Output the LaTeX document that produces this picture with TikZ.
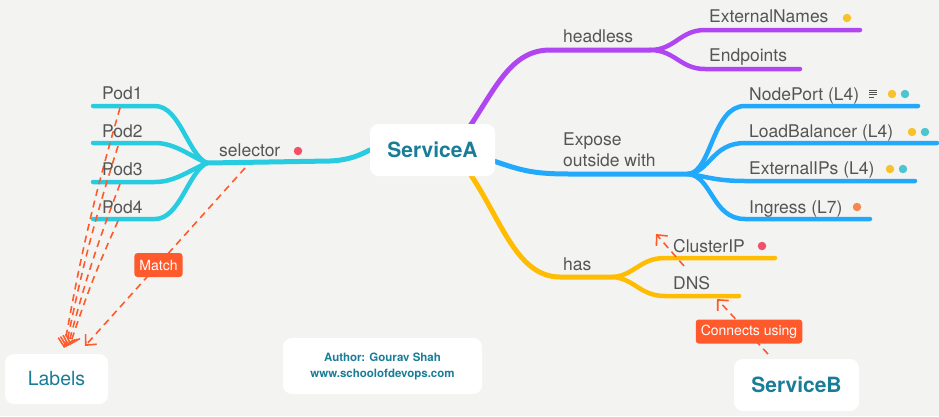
\documentclass[tikz,border=0pt]{standalone}
\usepackage{fontspec}
\setmainfont{TeX Gyre Heros}
\usetikzlibrary{arrows.meta}
\definecolor{bgc}{HTML}{F3F4F2}
\definecolor{txtgray}{HTML}{555555}
\definecolor{teal}{HTML}{1A7D98}
\definecolor{cyanline}{HTML}{28CCE0}
\definecolor{purpleline}{HTML}{B046F2}
\definecolor{blueline}{HTML}{23A9FB}
\definecolor{yellowline}{HTML}{FFBC00}
\definecolor{orangec}{HTML}{FF5A2C}
\definecolor{dotyellow}{HTML}{F8C22A}
\definecolor{dotteal}{HTML}{4EC4CC}
\definecolor{dotred}{HTML}{F0506A}
\definecolor{dotorange}{HTML}{F5884E}
\pgfdeclarelayer{bg}
\pgfdeclarelayer{lines}
\pgfsetlayers{bg,lines,main}
\tikzset{
  lbl/.style={anchor=base west, inner sep=0pt, text=txtgray, font=\fontsize{17.5}{21}\selectfont},
  whitebox/.style={fill=white, rounded corners=9pt, inner sep=0pt, text=teal},
  tagbox/.style={fill=orangec, rounded corners=3pt, text=white, inner xsep=5pt, inner ysep=0pt, minimum height=24pt, font=\fontsize{14}{16}\selectfont},
  branch/.style={line width=5pt, line cap=round},
  subbranch/.style={line width=4.5pt, line cap=round},
  rel/.style={draw=orangec, line width=1.6pt, dash pattern=on 7pt off 5pt, -{Straight Barb[length=8pt,width=15pt]}},
  dotc/.style={circle, inner sep=0pt, minimum size=8.5pt},
}
\begin{document}
\begin{tikzpicture}[x=1pt,y=-1pt]
\begin{pgfonlayer}{bg}
\fill[bgc] (0,0) rectangle (939,416);
\end{pgfonlayer}
\useasboundingbox (0,0) rectangle (939,416);

% boxes
\node[whitebox, minimum width=125pt, minimum height=52pt, font=\fontsize{21}{24}\bfseries] (sa) at (432.5,150) {ServiceA};
\node[whitebox, minimum width=103pt, minimum height=50pt, font=\fontsize{19.5}{22}\selectfont] (labels) at (56.5,379) {Labels};
\node[whitebox, minimum width=125pt, minimum height=52pt, font=\fontsize{21}{24}\bfseries] (sb) at (796.5,385) {ServiceB};
\node[whitebox, minimum width=199pt, minimum height=56pt, align=center, font=\fontsize{11.5}{16}\bfseries] (author) at (382.5,366) {Author: Gourav Shah\\www.schoolofdevops.com};

% text labels
\node[lbl] (pod1) at (102,99) {Pod1};
\node[lbl] (pod2) at (102,137) {Pod2};
\node[lbl] (pod3) at (102,175) {Pod3};
\node[lbl] (pod4) at (102,213) {Pod4};
\node[lbl] (selector) at (219,156) {selector};
\node[lbl] (headless) at (563,42) {headless};
\node[lbl] (extnames) at (709,22) {ExternalNames};
\node[lbl] (endpoints) at (709,61) {Endpoints};
\node[lbl] (expose) at (563,145) {Expose};
\node[lbl] (outside) at (563,166) {outside with};
\node[lbl] (nodeport) at (749,100) {NodePort (L4)};
\node[lbl] (lb) at (749,137) {LoadBalancer (L4)};
\node[lbl] (extips) at (749,174) {ExternalIPs (L4)};
\node[lbl] (ingress) at (749,213) {Ingress (L7)};
\node[lbl] (has) at (563,270) {has};
\node[lbl] (clusterip) at (673,252) {ClusterIP};
\node[lbl] (dns) at (673,289) {DNS};

% markers
\node[dotc, fill=dotred] (d1) at (298,151) {};
\node[dotc, fill=dotyellow] (d2) at (847,18) {};
\node[dotc, fill=dotyellow] (d3) at (892,94) {};
\node[dotc, fill=dotteal] (d4) at (905,94) {};
\node[dotc, fill=dotyellow] (d5) at (912,132) {};
\node[dotc, fill=dotteal] (d6) at (925,132) {};
\node[dotc, fill=dotyellow] (d7) at (890,169) {};
\node[dotc, fill=dotteal] (d8) at (903,169) {};
\node[dotc, fill=dotorange] (d9) at (857,207) {};
\node[dotc, fill=dotred] (d10) at (762,246) {};
\draw[txtgray, line width=0.8pt] (869,90) -- (877,90) (869,92.3) -- (877,92.3) (869,94.6) -- (877,94.6) (869,96.9) -- (874,96.9);

% coordinates
\coordinate (jsel) at (207,163);
\coordinate (jhead) at (650,50);
\coordinate (jexp) at (688,174);
\coordinate (jhas) at (613,277);
\coordinate (p1s) at (93,106);
\coordinate (p2s) at (93,143);
\coordinate (p3s) at (93,182);
\coordinate (p4s) at (93,219);
\coordinate (enE) at (860,30);
\coordinate (epE) at (800,69);
\coordinate (npE) at (918,106);
\coordinate (lbE) at (937,143);
\coordinate (eiE) at (915,181);
\coordinate (inE) at (870,219);
\coordinate (ciE) at (775,258);
\coordinate (dnE) at (739,296);

\begin{pgfonlayer}{lines}
% cyan
\draw[branch, cyanline] (jsel) -- (330,161) .. controls (350,160) and (360,155) .. (sa.west);
\draw[subbranch, cyanline] (p1s) -- (155,106) .. controls (180,106) and (188,155) .. (jsel);
\draw[subbranch, cyanline] (p2s) -- (155,143) .. controls (175,143) and (190,156) .. (jsel);
\draw[subbranch, cyanline] (p3s) -- (155,182) .. controls (175,182) and (190,170) .. (jsel);
\draw[subbranch, cyanline] (p4s) -- (155,219) .. controls (180,219) and (188,172) .. (jsel);
% purple
\draw[branch, purpleline] (466,132) .. controls (495,90) and (510,50) .. (550,50) -- (jhead);
\draw[subbranch, purpleline] (jhead) .. controls (675,50) and (680,30) .. (705,30) -- (enE);
\draw[subbranch, purpleline] (jhead) .. controls (675,50) and (680,69) .. (705,69) -- (epE);
% blue
\draw[branch, blueline] (485,158) .. controls (520,170) and (530,174) .. (570,174) -- (jexp);
\draw[subbranch, blueline] (jexp) .. controls (712,172) and (712,106) .. (745,106) -- (npE);
\draw[subbranch, blueline] (jexp) .. controls (710,172) and (712,143) .. (745,143) -- (lbE);
\draw[subbranch, blueline] (jexp) .. controls (705,176) and (715,181) .. (745,181) -- (eiE);
\draw[subbranch, blueline] (jexp) .. controls (712,176) and (712,219) .. (745,219) -- (inE);
% yellow
\draw[branch, yellowline] (466,168) .. controls (500,215) and (515,277) .. (560,277) -- (jhas);
\draw[subbranch, yellowline] (jhas) .. controls (635,275) and (640,258) .. (665,258) -- (ciE);
\draw[subbranch, yellowline] (jhas) .. controls (635,279) and (640,296) .. (665,296) -- (dnE);
% relations
\coordinate (r1) at (120,108);
\coordinate (r2) at (118,146);
\coordinate (r3) at (120,184);
\coordinate (r4) at (118,221);
\draw[rel] (r1) to[bend right=3] (64,348);
\draw[rel] (r2) to[bend right=3] (66,347);
\draw[rel] (r3) to[bend right=3] (68,346);
\draw[rel] (r4) to[bend right=3] (70,345);
\coordinate (rsel) at (245,168);
\coordinate (lblT) at (85,346);
\draw[rel] (rsel) -- (lblT);
\coordinate (sbT) at (768,354);
\coordinate (dnsT) at (717,299);
\draw[rel] (sbT) -- (dnsT);
\coordinate (ciS) at (684,266);
\coordinate (ciT) at (656,234);
\draw[rel] (ciS) -- (ciT);
\end{pgfonlayer}

\node[tagbox] (match) at (158.5,265) {Match};
\node[tagbox] (connects) at (749,331.5) {Connects using};
\end{tikzpicture}
\end{document}
